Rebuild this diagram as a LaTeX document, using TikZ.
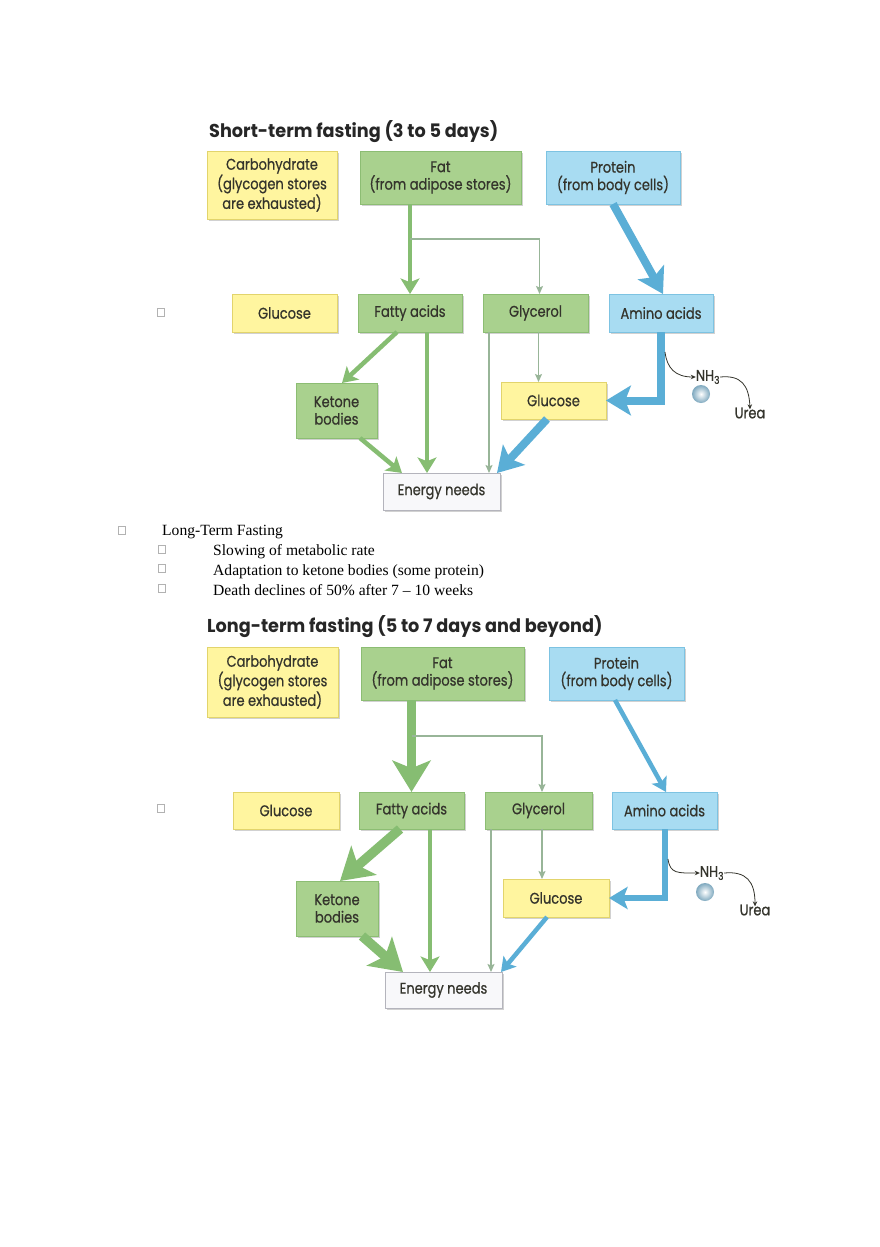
\documentclass[tikz,border=0pt]{standalone}
\usepackage{fontspec}
\usetikzlibrary{arrows.meta,shadows}
\setmainfont{Liberation Serif}
\newfontfamily\chartfont[FakeStretch=0.84,FakeBold=0.6]{Poppins}
\newfontfamily\titlefont[FakeStretch=0.95]{Poppins}
\definecolor{yfill}{HTML}{FFF59F}
\definecolor{ydraw}{HTML}{E2D46C}
\definecolor{gfill}{HTML}{A9D18E}
\definecolor{gdraw}{HTML}{8CBD73}
\definecolor{bfill}{HTML}{A8DCF2}
\definecolor{bdraw}{HTML}{7DC3E2}
\definecolor{efill}{HTML}{F8F8FA}
\definecolor{edraw}{HTML}{B4B4BC}
\definecolor{gflow}{HTML}{86BD72}
\definecolor{bflow}{HTML}{5AAED6}
\definecolor{tflow}{HTML}{98B598}
\definecolor{ink}{HTML}{34342C}
\definecolor{sphere}{HTML}{7FA9BF}
\begin{document}
\begin{tikzpicture}[x=1pt,y=-1pt]
  \tikzset{box/.style={rectangle,draw,line width=0.8pt,inner sep=0pt,outer sep=0pt,align=center,text=ink,
      font=\chartfont\fontsize{15.5}{17.5}\selectfont,
      drop shadow={shadow xshift=1.5pt,shadow yshift=-1.5pt,fill=black,opacity=0.18}},
    yellow box/.style={box,fill=yfill,draw=ydraw},
    green box/.style={box,fill=gfill,draw=gdraw},
    blue box/.style={box,fill=bfill,draw=bdraw},
    energy box/.style={box,fill=efill,draw=edraw},
    chart title/.style={anchor=base west,inner sep=0pt,text=black!85,font=\titlefont\bfseries\fontsize{18.6}{22}\selectfont},
    chart label/.style={inner sep=0pt,text=ink,font=\chartfont\fontsize{15.5}{17}\selectfont},
    green flow/.style={draw=gflow,line width=#1,-{Stealth[length=0pt 3.3,width=0pt 4,inset=0pt 0.8]}},
    blue flow/.style={draw=bflow,line width=#1,-{Stealth[length=0pt 3.1,width=0pt 3.7,inset=0pt 0.7]}},
    thin flow/.style={draw=tflow,line width=1.3pt,-{Stealth[length=8pt,width=7pt,inset=1.5pt]}},
    small flow/.style={draw=ink,line width=0.8pt,-{Stealth[length=5pt,width=4.5pt]}},
    ammonia/.style={inner color=white,outer color=sphere},
    bulletbox/.style={draw=gray!60,line width=0.5pt,minimum width=7pt,minimum height=8pt,inner sep=0pt},
    listtext/.style={anchor=base west,inner sep=0pt,font=\fontsize{15.6}{18}\selectfont}}
  \useasboundingbox[fill=white] (0,0) rectangle (880,1247);

  % short-term fasting
  \node[chart title] (s-title) at (209,137.7) {Short-term fasting (3 to 5 days)};
  \node[yellow box,minimum width=130pt,minimum height=68pt] (s-carb) at (272,185) {Carbohydrate\\(glycogen stores\\are exhausted)};
  \node[green box,minimum width=161pt,minimum height=53pt] (s-fat) at (440.5,177.5) {Fat\\(from adipose stores)};
  \node[blue box,minimum width=134pt,minimum height=53pt] (s-protein) at (613,177.5) {Protein\\(from body cells)};
  \node[yellow box,minimum width=105pt,minimum height=38pt] (s-glucl) at (284.5,313) {Glucose};
  \node[green box,minimum width=104pt,minimum height=38pt] (s-fatty) at (410,313) {Fatty acids};
  \node[green box,minimum width=105pt,minimum height=38pt] (s-glycerol) at (535.5,313) {Glycerol};
  \node[blue box,minimum width=104pt,minimum height=38pt] (s-amino) at (661,313) {Amino acids};
  \node[green box,minimum width=81pt,minimum height=55pt] (s-ketone) at (336.5,410.5) {Ketone\\bodies};
  \node[yellow box,minimum width=105pt,minimum height=37pt] (s-glucr) at (553.5,400.5) {Glucose};
  \node[energy box,minimum width=117pt,minimum height=37pt] (s-energy) at (441.5,491.5) {Energy needs};
  \node[chart label] (s-nh3) at (708,377) {NH\textsubscript{3}};
  \node[chart label] (s-urea) at (750,413) {Urea};
  \shade[ammonia] (701,394) circle [radius=9pt];
  \coordinate (s-split) at (410,239);
  \coordinate (s-nh3in) at (665,352);

  \draw[green flow=4.7pt] (s-fatty.north |- s-fat.south) -- (s-fatty.north);
  \draw[thin flow] (s-split) -| ([xshift=4pt]s-glycerol.north);
  \draw[green flow=4.5pt] ([xshift=-13pt]s-fatty.south) -- ([xshift=5.5pt]s-ketone.north);
  \draw[green flow=4.7pt] ([xshift=17pt]s-fatty.south) -- ([xshift=17pt]s-fatty.south |- s-energy.north);
  \draw[thin flow] ([xshift=-46.5pt]s-glycerol.south) -- ([xshift=-46.5pt]s-glycerol.south |- s-energy.north);
  \draw[thin flow] ([xshift=3pt]s-glycerol.south) -- ([xshift=3pt]s-glycerol.south |- s-glucr.north);
  \draw[green flow=4.5pt] ([xshift=23.5pt]s-ketone.south) -- ([xshift=-39.5pt]s-energy.north);
  \draw[blue flow=8pt] ([xshift=-6.5pt]s-glucr.south) -- ([xshift=-3pt]s-energy.north east);
  \draw[blue flow=8pt] (s-protein.south) -- ([xshift=2pt]s-amino.north);
  \draw[blue flow=8pt] (s-amino.south) |- (s-glucr.east);
  \draw[small flow] (s-nh3in) .. controls (667,368) and (675,377) .. (s-nh3.west);
  \draw[small flow] (s-nh3.east) .. controls (741,375) and (749,385) .. ([yshift=-2pt]s-urea.north);

  % bullets and text
  \node[bulletbox] (b0) at (161,312) {};
  \node[bulletbox] (b1) at (122,530) {};
  \node[bulletbox] (b2) at (162,549) {};
  \node[bulletbox] (b3) at (162,568) {};
  \node[bulletbox] (b4) at (162,588) {};
  \node[bulletbox] (b5) at (161,808) {};
  \node[listtext] (lt-head) at (162,535.7) {Long-Term Fasting};
  \node[listtext] (lt-rate) at (213,555.7) {Slowing of metabolic rate};
  \node[listtext] (lt-ketone) at (213,575.3) {Adaptation to ketone bodies (some protein)};
  \node[listtext] (lt-death) at (213,595) {Death declines of 50\% after 7 -- 10 weeks};

  % long-term fasting
  \node[chart title] (l-title) at (207,632.7) {Long-term fasting (5 to 7 days and beyond)};
  \node[yellow box,minimum width=131pt,minimum height=70pt] (l-carb) at (272.5,682) {Carbohydrate\\(glycogen stores\\are exhausted)};
  \node[green box,minimum width=163pt,minimum height=53pt] (l-fat) at (442.5,673.5) {Fat\\(from adipose stores)};
  \node[blue box,minimum width=135pt,minimum height=53pt] (l-protein) at (616.5,673.5) {Protein\\(from body cells)};
  \node[yellow box,minimum width=106pt,minimum height=37pt] (l-glucl) at (286,810.5) {Glucose};
  \node[green box,minimum width=105pt,minimum height=37pt] (l-fatty) at (411.5,810.5) {Fatty acids};
  \node[green box,minimum width=107pt,minimum height=37pt] (l-glycerol) at (538.5,810.5) {Glycerol};
  \node[blue box,minimum width=105pt,minimum height=37pt] (l-amino) at (664.5,810.5) {Amino acids};
  \node[green box,minimum width=82pt,minimum height=55pt] (l-ketone) at (337,908.5) {Ketone\\bodies};
  \node[yellow box,minimum width=106pt,minimum height=38pt] (l-glucr) at (556,898) {Glucose};
  \node[energy box,minimum width=117pt,minimum height=36pt] (l-energy) at (443.5,990) {Energy needs};
  \node[chart label] (l-nh3) at (712,873) {NH\textsubscript{3}};
  \node[chart label] (l-urea) at (755,910) {Urea};
  \shade[ammonia] (705,892) circle [radius=9pt];
  \coordinate (l-split) at (411.5,736);
  \coordinate (l-nh3in) at (668,859);

  \draw[green flow=9.5pt] (l-fatty.north |- l-fat.south) -- (l-fatty.north);
  \draw[thin flow] (l-split) -| ([xshift=3.5pt]l-glycerol.north);
  \draw[green flow=9.5pt] ([xshift=-11.5pt]l-fatty.south) -- ([xshift=3pt]l-ketone.north);
  \draw[green flow=4.7pt] ([xshift=18.5pt]l-fatty.south) -- ([xshift=18.5pt]l-fatty.south |- l-energy.north);
  \draw[thin flow] ([xshift=-47.5pt]l-glycerol.south) -- ([xshift=-47.5pt]l-glycerol.south |- l-energy.north);
  \draw[thin flow] ([xshift=3.5pt]l-glycerol.south) -- ([xshift=3.5pt]l-glycerol.south |- l-glucr.north);
  \draw[green flow=9.5pt] ([xshift=25pt]l-ketone.south) -- ([xshift=-40.5pt]l-energy.north);
  \draw[blue flow=4.5pt] ([xshift=-9pt]l-glucr.south) -- ([xshift=-1pt]l-energy.north east);
  \draw[blue flow=4.5pt] ([xshift=-1.5pt]l-protein.south) -- ([xshift=1.5pt]l-amino.north);
  \draw[blue flow=6pt] (l-amino.south) |- (l-glucr.east);
  \draw[small flow] (l-nh3in) .. controls (670,874) and (678,873) .. (l-nh3.west);
  \draw[small flow] (l-nh3.east) .. controls (746,871) and (755,881) .. ([yshift=-2pt]l-urea.north);
\end{tikzpicture}
\end{document}
